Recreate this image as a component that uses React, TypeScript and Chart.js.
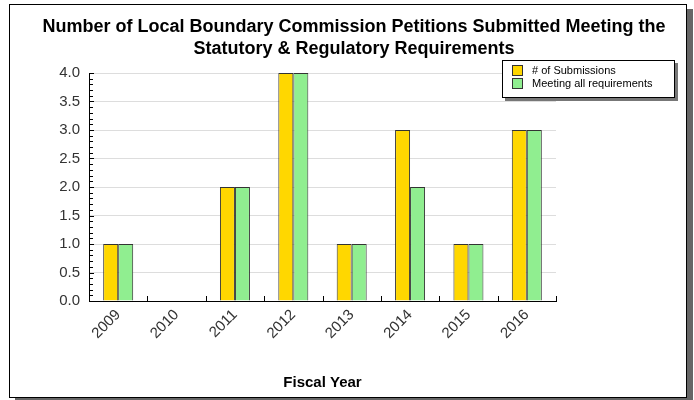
import React, { useEffect, useRef } from "react";
import { Chart, registerables } from "chart.js";

Chart.register(...registerables);

const categories = ["2009", "2010", "2011", "2012", "2013", "2014", "2015", "2016"];
const submissions = [1, 0, 2, 4, 1, 3, 1, 3];
const meetingAll = [1, 0, 2, 4, 1, 2, 1, 3];
const seriesNames = ["# of Submissions", "Meeting all requirements"];
const titleLines = [
  "Number of Local Boundary Commission Petitions Submitted Meeting the",
  "Statutory & Regulatory Requirements",
];
const xTitle = "Fiscal Year";

const FONT = "'Liberation Sans', Arial, sans-serif";
const COLORS = ["#FFD700", "#90EE90"];

const decorPlugin = {
  id: "decor",
  afterDraw(chart: any) {
    const { ctx, chartArea, scales } = chart;
    const y = scales.y;
    ctx.save();
    ctx.strokeStyle = "#000";
    ctx.lineWidth = 1;
    for (let v = 0; v <= 4.0001; v += 0.1) {
      const py = Math.round(y.getPixelForValue(v)) + 0.5;
      const major = Math.abs(v * 2 - Math.round(v * 2)) < 1e-6;
      const len = major ? 5 : 4;
      ctx.beginPath();
      ctx.moveTo(chartArea.left, py);
      ctx.lineTo(chartArea.left + len, py);
      ctx.stroke();
    }
    const n = categories.length;
    const w = (chartArea.right - chartArea.left) / n;
    for (let i = 1; i <= n; i++) {
      const px = Math.round(chartArea.left + i * w) + 0.5;
      ctx.beginPath();
      ctx.moveTo(px, chartArea.bottom);
      ctx.lineTo(px, chartArea.bottom - 5);
      ctx.stroke();
    }
    ctx.fillStyle = "#000";
    ctx.font = `bold 18px ${FONT}`;
    ctx.textAlign = "center";
    ctx.textBaseline = "middle";
    ctx.fillText(titleLines[0], 344, 22);
    ctx.fillText(titleLines[1], 344, 44);
    const lx = 492, ly = 55, lw = 173, lh = 38;
    ctx.fillStyle = "#777";
    ctx.fillRect(lx + 3, ly + 3, lw, lh);
    ctx.fillStyle = "#fff";
    ctx.fillRect(lx, ly, lw, lh);
    ctx.strokeStyle = "#000";
    ctx.strokeRect(lx + 0.5, ly + 0.5, lw - 1, lh - 1);
    ctx.font = `11px ${FONT}`;
    ctx.textAlign = "left";
    const rows = [60, 73];
    seriesNames.forEach((name, i) => {
      ctx.fillStyle = COLORS[i];
      ctx.fillRect(502, rows[i], 11, 11);
      ctx.strokeStyle = "#333";
      ctx.strokeRect(502.5, rows[i] + 0.5, 10, 10);
      ctx.fillStyle = "#000";
      ctx.fillText(name, 522, rows[i] + 6);
    });
    ctx.restore();
  },
};

export default function App() {
  const ref = useRef<HTMLCanvasElement>(null);
  useEffect(() => {
    if (!ref.current) return;
    const chart = new Chart(ref.current, {
      type: "bar",
      data: {
        labels: categories,
        datasets: [
          {
            label: seriesNames[0],
            data: submissions,
            backgroundColor: COLORS[0],
            borderColor: "#333",
            borderWidth: 1,
          },
          {
            label: seriesNames[1],
            data: meetingAll,
            backgroundColor: COLORS[1],
            borderColor: "#333",
            borderWidth: 1,
          },
        ],
      },
      options: {
        animation: false,
        responsive: false,
        maintainAspectRatio: false,
        layout: { padding: { left: 0, right: 130, top: 68, bottom: 0 } },
        datasets: { bar: { categoryPercentage: 0.514, barPercentage: 1 } },
        plugins: {
          legend: { display: false },
          title: { display: false },
          tooltip: { enabled: false },
        },
        scales: {
          x: {
            grid: { display: false, drawTicks: false },
            border: { color: "#000", width: 1 },
            ticks: {
              minRotation: 45,
              maxRotation: 45,
              autoSkip: false,
              color: "#333",
              padding: 5,
              font: { family: FONT, size: 15 },
            },
            title: {
              display: true,
              text: xTitle,
              color: "#000",
              font: { family: FONT, size: 15, weight: "bold" },
              padding: { top: 4, bottom: 5 },
            },
            afterFit(scale: any) {
              scale.height = 96;
            },
          },
          y: {
            min: 0,
            max: 4,
            grid: { color: "#dddddd", drawTicks: false },
            border: { color: "#000", width: 1 },
            ticks: {
              stepSize: 0.5,
              color: "#333",
              padding: 9,
              font: { family: FONT, size: 15 },
              callback: (v: any) => Number(v).toFixed(1),
            },
            afterFit(scale: any) {
              scale.width = 79;
            },
          },
        },
      },
      plugins: [decorPlugin],
    });
    return () => chart.destroy();
  }, []);

  return (
    <div style={{ position: "absolute", left: 0, top: 0, width: 694, height: 400, background: "#fff" }}>
      <div
        style={{
          position: "absolute",
          left: 9,
          top: 4,
          width: 676,
          height: 392,
          border: "1px solid #000",
          boxShadow: "6px 5px 0 #666",
          background: "#fff",
        }}
      >
        <canvas ref={ref} width={676} height={392} style={{ display: "block" }} />
      </div>
    </div>
  );
}
